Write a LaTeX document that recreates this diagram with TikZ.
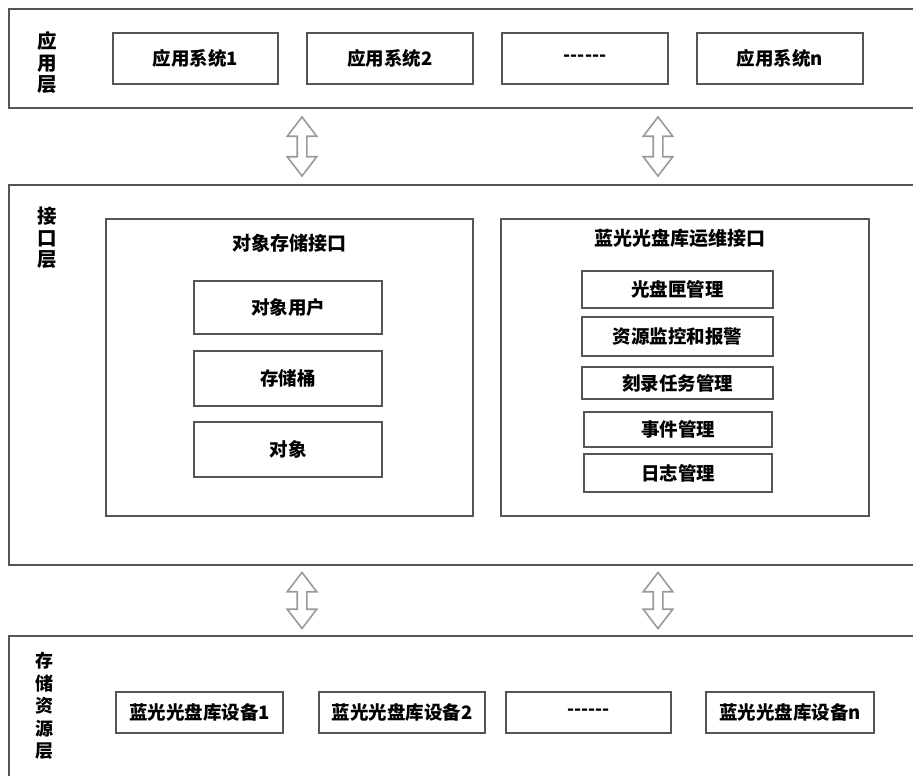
\documentclass[tikz,border=0pt]{standalone}
\usepackage{fontspec}
\newfontfamily\cjk{Noto Sans CJK SC}
\usetikzlibrary{shapes.arrows}
\definecolor{boxgray}{HTML}{555555}
\definecolor{arrgray}{HTML}{9A9A9A}
\begin{document}
\begin{tikzpicture}[x=1pt,y=-1pt,
  layer/.style={draw=boxgray,line width=2.8pt,inner sep=0pt},
  item/.style={draw=boxgray,line width=2.8pt,inner sep=0pt,font={\cjk\bfseries\fontsize{18.5}{20}\selectfont}},
  ttl/.style={inner sep=0pt,font={\cjk\bfseries\fontsize{19}{20}\selectfont}},
  lbl/.style={inner sep=0pt,align=center,font={\cjk\bfseries\fontsize{19.5}{21.5}\selectfont}},
  lblb/.style={inner sep=0pt,align=center,font={\cjk\bfseries\fontsize{18}{22.5}\selectfont}},
  darr/.style={double arrow,draw=arrgray,line width=1.6pt,fill=white,rotate=90,
    inner xsep=0pt,inner ysep=4pt,double arrow head extend=10pt,double arrow tip angle=75}]
\useasboundingbox (0,0) rectangle (913,776);
% layer 1
\node[layer,minimum width=906pt,minimum height=99pt] (L1) at (462,58.5) {};
\node[lbl] (L1t) at (47,63) {应\\用\\层};
\node[item,minimum width=165pt,minimum height=51pt] (A1) at (195.5,58.5) {应用系统1};
\node[item,minimum width=166pt,minimum height=51pt] (A2) at (390,58.5) {应用系统2};
\node[item,minimum width=166pt,minimum height=51pt] (A3) at (585,58.5) {------};
\node[item,minimum width=166pt,minimum height=51pt] (A4) at (780,58.5) {应用系统n};
% arrows 1-2
\node[darr,minimum height=59pt] (U1) at (302,146.5) {};
\node[darr,minimum height=59pt] (U2) at (658,146.5) {};
% layer 2
\node[layer,minimum width=906pt,minimum height=380pt] (L2) at (462,375) {};
\node[lbl] (L2t) at (47,238) {接\\口\\层};
\node[item,minimum width=367pt,minimum height=297pt] (OL) at (289.5,367.5) {};
\node[ttl] (OLt) at (289,243) {对象存储接口};
\node[item,minimum width=188pt,minimum height=53pt] (O1) at (288,307.5) {对象用户};
\node[item,minimum width=188pt,minimum height=55pt] (O2) at (288,378.5) {存储桶};
\node[item,minimum width=188pt,minimum height=55pt] (O3) at (288,449.5) {对象};
\node[item,minimum width=368pt,minimum height=297pt] (BR) at (685,367.5) {};
\node[ttl] (BRt) at (680,238) {蓝光光盘库运维接口};
\node[item,minimum width=191pt,minimum height=37pt] (B1) at (677.5,289.5) {光盘匣管理};
\node[item,minimum width=191pt,minimum height=39pt] (B2) at (677.5,336.5) {资源监控和报警};
\node[item,minimum width=191pt,minimum height=32pt] (B3) at (677.5,383) {刻录任务管理};
\node[item,minimum width=188pt,minimum height=35pt] (B4) at (678,429.5) {事件管理};
\node[item,minimum width=188pt,minimum height=38pt] (B5) at (678,473) {日志管理};
% arrows 2-3
\node[darr,minimum height=56pt] (D1a) at (302,600.5) {};
\node[darr,minimum height=56pt] (D2a) at (658,600.5) {};
% layer 3
\node[layer,minimum width=906pt,minimum height=142pt] (L3) at (462,707) {};
\node[lblb] (L3t) at (44,706) {存\\储\\资\\源\\层};
\node[item,minimum width=167pt,minimum height=41pt] (S1) at (199.5,712.5) {蓝光光盘库设备1};
\node[item,minimum width=166pt,minimum height=41pt] (S2) at (402,712.5) {蓝光光盘库设备2};
\node[item,minimum width=165pt,minimum height=41pt] (S3) at (588.5,712.5) {------};
\node[item,minimum width=168pt,minimum height=41pt] (S4) at (790,712.5) {蓝光光盘库设备n};
\end{tikzpicture}
\end{document}
